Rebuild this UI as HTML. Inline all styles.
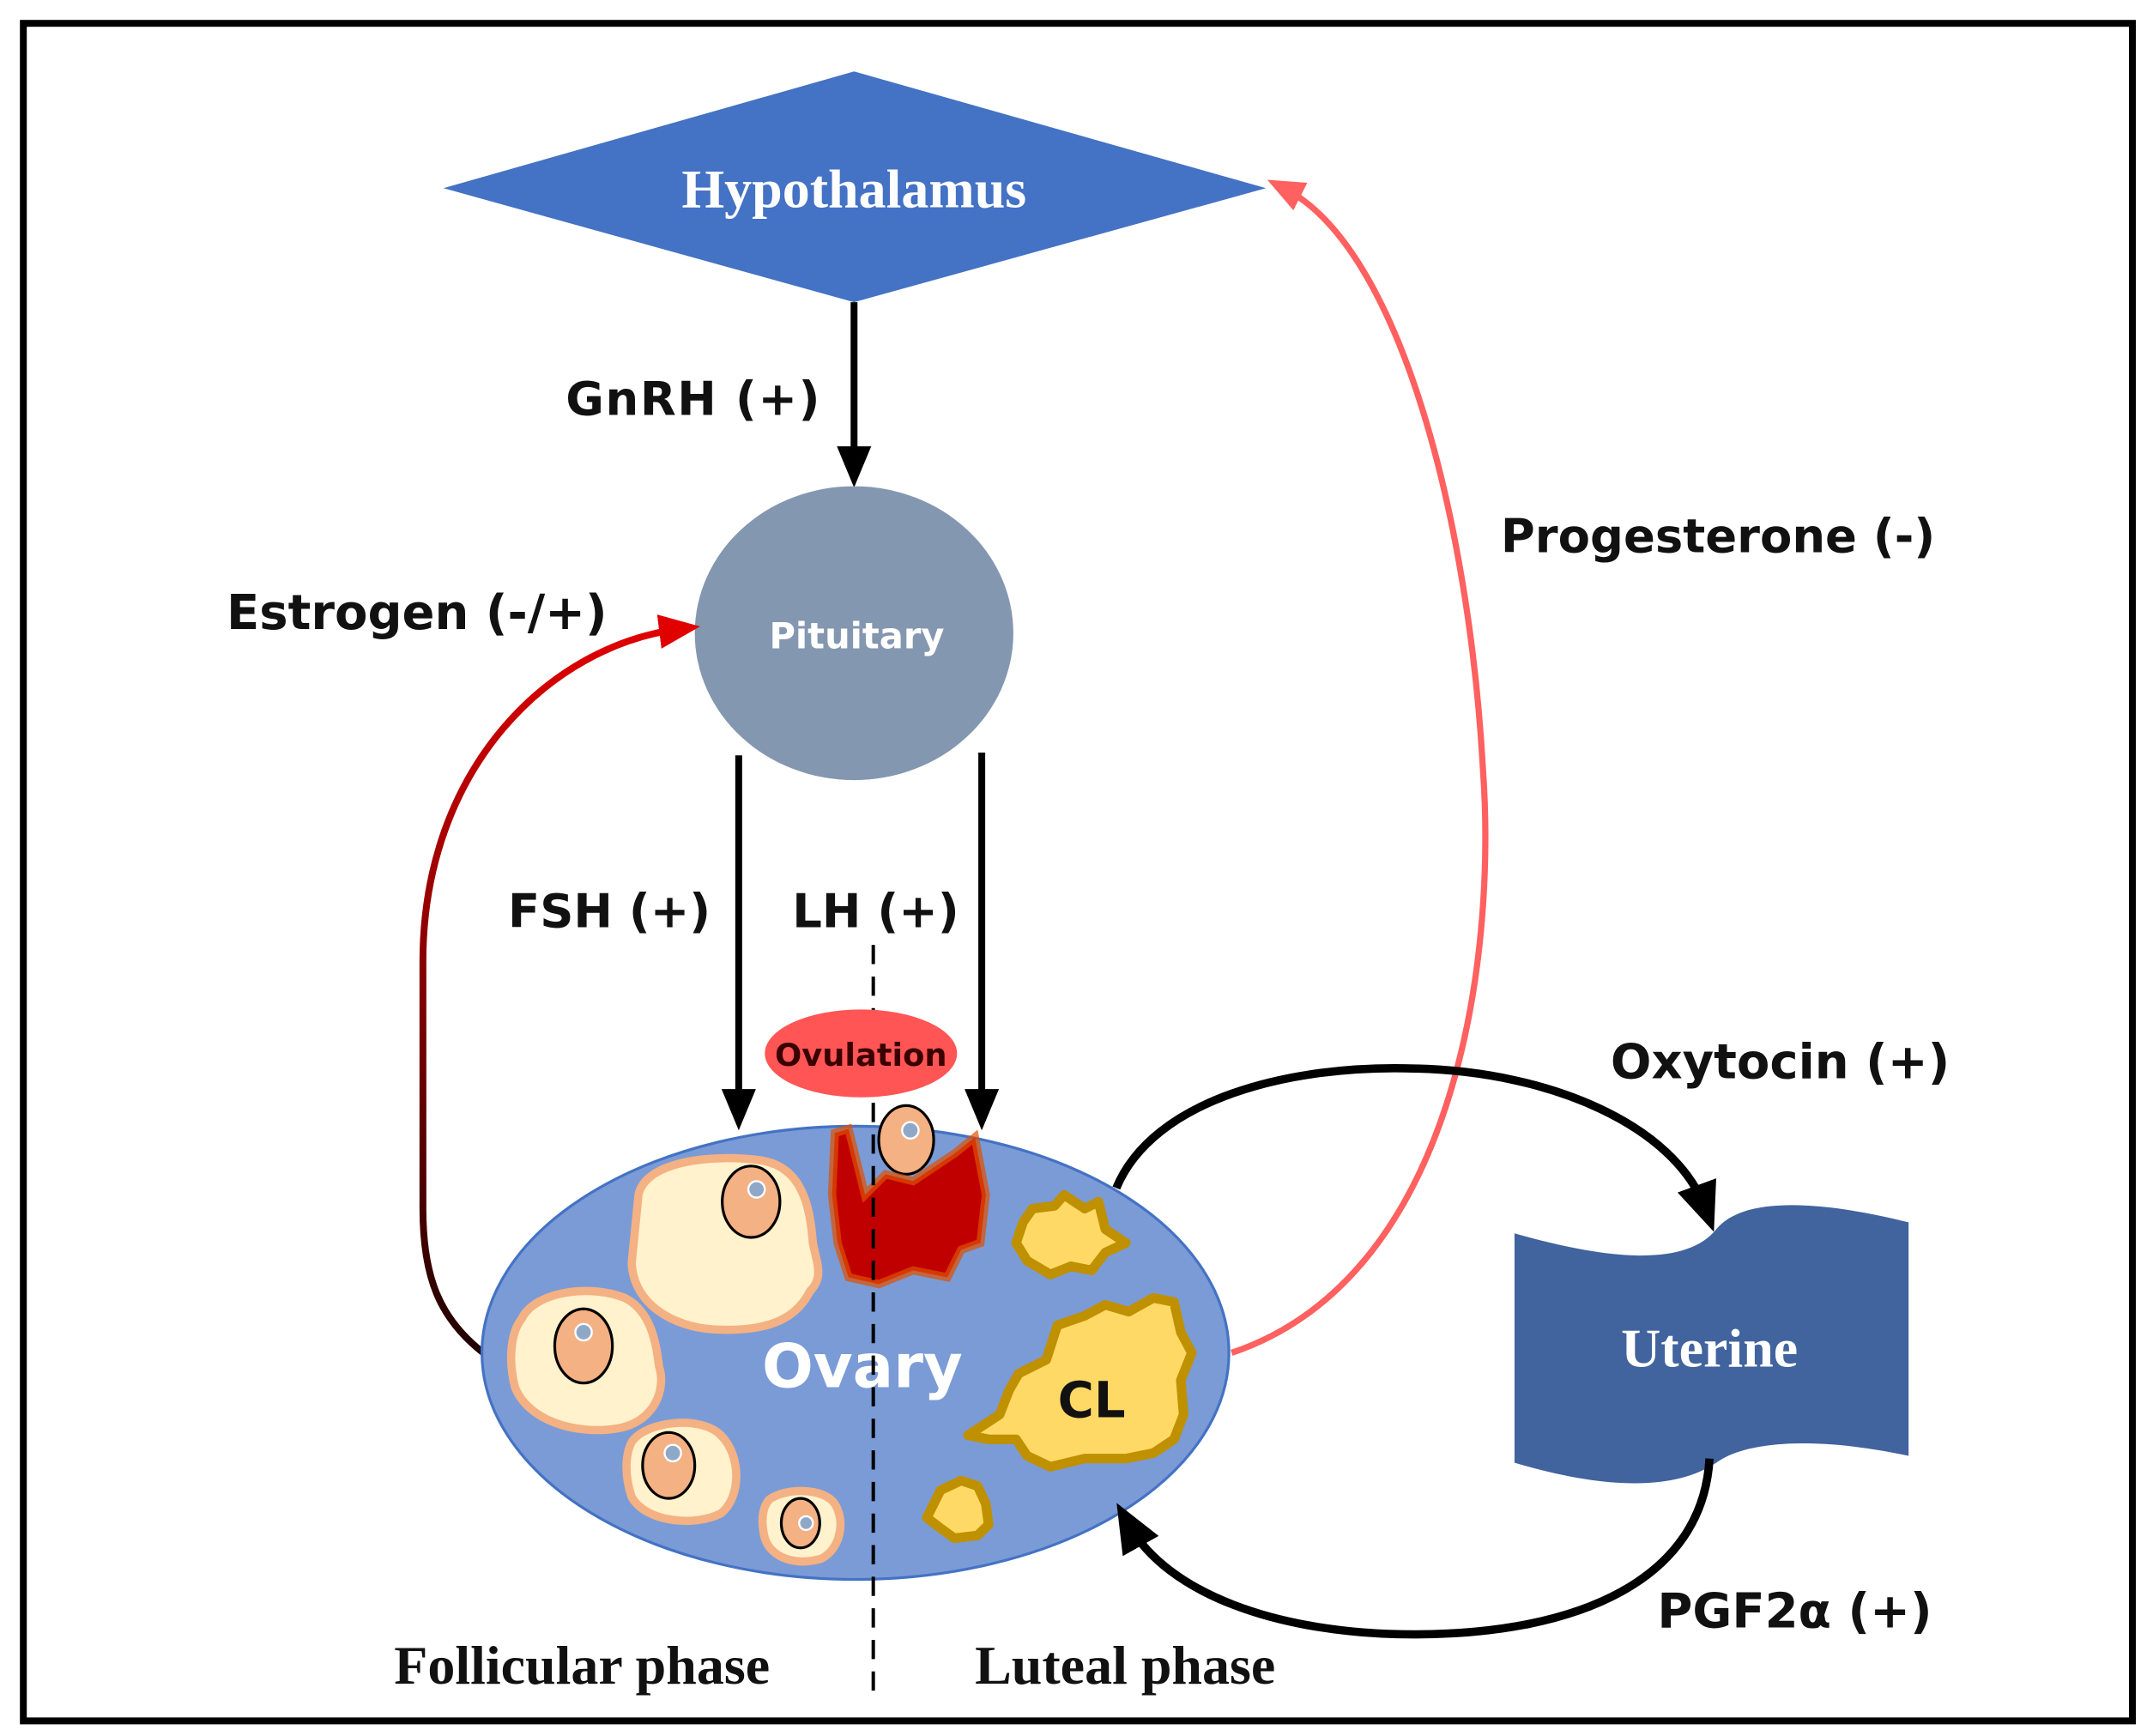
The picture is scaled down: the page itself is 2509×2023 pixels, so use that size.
<!DOCTYPE html>
<html><head><meta charset="utf-8"><style>html,body{margin:0;padding:0;background:#fff}svg{display:block}</style></head>
<body>
<svg width="2509" height="2023" viewBox="0 0 1568 1264" preserveAspectRatio="none" xmlns="http://www.w3.org/2000/svg">
<defs>
<marker id="ab" markerWidth="6" markerHeight="6" refX="3" refY="3" orient="auto" markerUnits="strokeWidth"><path d="M0,0.5 L6,3 L0,5.5 Z" fill="#000"/></marker>
<marker id="ar" markerWidth="6" markerHeight="6" refX="3" refY="3" orient="auto" markerUnits="strokeWidth"><path d="M0,0.5 L6,3 L0,5.5 Z" fill="#e00000"/></marker>
<marker id="ap" markerWidth="6" markerHeight="6" refX="3" refY="3" orient="auto" markerUnits="strokeWidth"><path d="M0,0.5 L6,3 L0,5.5 Z" fill="#ff6060"/></marker>
<linearGradient id="eg" x1="0" y1="1" x2="0" y2="0"><stop offset="0" stop-color="#200000"/><stop offset="1" stop-color="#e00000"/></linearGradient>
</defs>
<rect x="17" y="17" width="1536" height="1236" fill="none" stroke="#000" stroke-width="5"/>
<polygon points="323,137 622,52 922,137 622,220" fill="#4472C4"/>
<text x="622" y="151" text-anchor="middle" font-family="Liberation Serif,serif" font-weight="bold" font-size="40" fill="#fff">Hypothalamus</text>
<line x1="622" y1="220" x2="622" y2="340" stroke="#000" stroke-width="5" marker-end="url(#ab)"/>
<text x="412" y="302" font-family="DejaVu Sans,sans-serif" font-weight="bold" font-size="34" fill="#111" letter-spacing="1">GnRH (+)</text>
<ellipse cx="622" cy="461" rx="116" ry="107" fill="#8497B0"/>
<text x="624" y="472" text-anchor="middle" font-family="DejaVu Sans,sans-serif" font-weight="bold" font-size="26" fill="#fff">Pituitary</text>
<text x="165" y="458" font-family="DejaVu Sans,sans-serif" font-weight="bold" font-size="35" fill="#111">Estrogen (-/+)</text>
<path d="M352,985 C320,960 308,930 308,880 L308,700 C308,560 400,470 495,458" fill="none" stroke="url(#eg)" stroke-width="5" marker-end="url(#ar)"/>
<line x1="538" y1="550" x2="538" y2="808" stroke="#000" stroke-width="5" marker-end="url(#ab)"/>
<line x1="715" y1="548" x2="715" y2="808" stroke="#000" stroke-width="5" marker-end="url(#ab)"/>
<text x="370" y="675" font-family="DejaVu Sans,sans-serif" font-weight="bold" font-size="34" fill="#111">FSH (+)</text>
<text x="577" y="675" font-family="DejaVu Sans,sans-serif" font-weight="bold" font-size="34" fill="#111">LH (+)</text>
<path d="M897,985 C1060,930 1090,700 1080,560 C1070,380 1020,180 935,137" fill="none" stroke="#ff6060" stroke-width="4.5" marker-end="url(#ap)"/>
<text x="1093" y="402" font-family="DejaVu Sans,sans-serif" font-weight="bold" font-size="34" fill="#111">Progesterone (-)</text>
<ellipse cx="623" cy="985" rx="272" ry="165" fill="#7B9BD6" stroke="#4472C4" stroke-width="2"/>
<g fill="#FFF2CC" stroke="#F4B183" stroke-width="6">
<path d="M465,870 C470,845 520,840 555,845 C585,850 590,880 592,905 C595,920 600,930 590,940 C580,960 560,970 520,968 C490,966 462,950 460,920 Z"/>
<path d="M380,960 C390,940 430,935 455,945 C475,955 478,980 480,995 C485,1010 478,1035 450,1040 C420,1045 385,1035 375,1010 C370,990 372,970 380,960 Z"/>
<path d="M460,1050 C470,1035 510,1030 525,1045 C540,1060 540,1090 525,1102 C505,1112 470,1108 460,1090 C455,1075 455,1060 460,1050 Z"/>
<path d="M560,1092 C572,1083 600,1083 608,1095 C616,1108 612,1128 598,1135 C580,1140 562,1135 557,1120 C554,1108 555,1098 560,1092 Z"/>
</g>
<g fill="#F4B183" stroke="#000" stroke-width="2">
<ellipse cx="547" cy="875" rx="21" ry="26"/>
<ellipse cx="425" cy="980" rx="21" ry="27"/>
<ellipse cx="487" cy="1067" rx="19" ry="24"/>
<ellipse cx="583" cy="1109" rx="14" ry="18"/>
<ellipse cx="660" cy="830" rx="20" ry="25"/>
</g>
<g fill="#8fa8c8" stroke="#fff" stroke-width="1.5">
<circle cx="551" cy="866" r="6"/><circle cx="425" cy="970" r="6"/><circle cx="490" cy="1058" r="6"/><circle cx="587" cy="1109" r="5"/><circle cx="663" cy="823" r="6"/>
</g>
<path d="M608,825 L618,822 L630,870 L645,855 L665,860 L695,840 L710,828 L718,870 L714,905 L700,910 L690,930 L665,925 L640,935 L618,930 L610,905 L606,870 Z" fill="#C00000" stroke="#E05000" stroke-width="6" stroke-opacity="0.7"/>
<g fill="#FFD966" stroke="#BF9000" stroke-width="7" stroke-linejoin="round">
<path d="M752,880 L768,878 L775,870 L790,880 L800,875 L805,895 L820,905 L805,912 L795,925 L780,922 L765,928 L748,918 L740,905 L745,890 Z"/>
<path d="M770,965 L790,958 L805,950 L822,955 L840,945 L855,948 L860,970 L868,985 L860,1005 L862,1030 L855,1048 L840,1058 L820,1062 L790,1062 L765,1068 L748,1060 L740,1048 L720,1048 L705,1045 L728,1030 L735,1012 L742,1000 L762,990 Z"/>
<path d="M685,1085 L700,1078 L712,1082 L718,1095 L720,1110 L712,1118 L695,1120 L684,1112 L675,1105 L680,1095 Z"/>
</g>
<text x="628" y="1010" text-anchor="middle" font-family="DejaVu Sans,sans-serif" font-weight="bold" font-size="44" fill="#fff">Ovary</text>
<text x="795" y="1032" text-anchor="middle" font-family="DejaVu Sans,sans-serif" font-weight="bold" font-size="36" fill="#111">CL</text>
<line x1="636" y1="688" x2="636" y2="1236" stroke="#000" stroke-width="2.5" stroke-dasharray="14,9"/>
<ellipse cx="627" cy="767" rx="70" ry="32" fill="#FF5555"/>
<text x="627" y="776" text-anchor="middle" font-family="DejaVu Sans,sans-serif" font-weight="bold" font-size="23" fill="#3a0000">Ovulation</text>
<path d="M1103,898 C1180,920 1230,920 1250,895 C1270,870 1330,875 1390,890 L1390,1060 C1320,1045 1270,1050 1250,1065 C1220,1085 1170,1085 1103,1065 Z" fill="#41639E"/>
<text x="1245" y="995" text-anchor="middle" font-family="Liberation Serif,serif" font-weight="bold" font-size="40" fill="#fff">Uterine</text>
<path d="M813,865 C840,800 940,775 1030,778 C1130,780 1220,820 1242,880" fill="none" stroke="#000" stroke-width="6" marker-end="url(#ab)"/>
<text x="1173" y="785" font-family="DejaVu Sans,sans-serif" font-weight="bold" font-size="35" fill="#111">Oxytocin (+)</text>
<path d="M1245,1062 C1240,1150 1150,1190 1030,1190 C930,1190 850,1160 822,1110" fill="none" stroke="#000" stroke-width="6" marker-end="url(#ab)"/>
<text x="1207" y="1185" font-family="DejaVu Sans,sans-serif" font-weight="bold" font-size="35" fill="#111">PGF2α (+)</text>
<text x="287" y="1226" font-family="Liberation Serif,serif" font-weight="bold" font-size="40" fill="#111">Follicular phase</text>
<text x="710" y="1226" font-family="Liberation Serif,serif" font-weight="bold" font-size="40" fill="#111">Luteal phase</text>
</svg>
</body></html>
